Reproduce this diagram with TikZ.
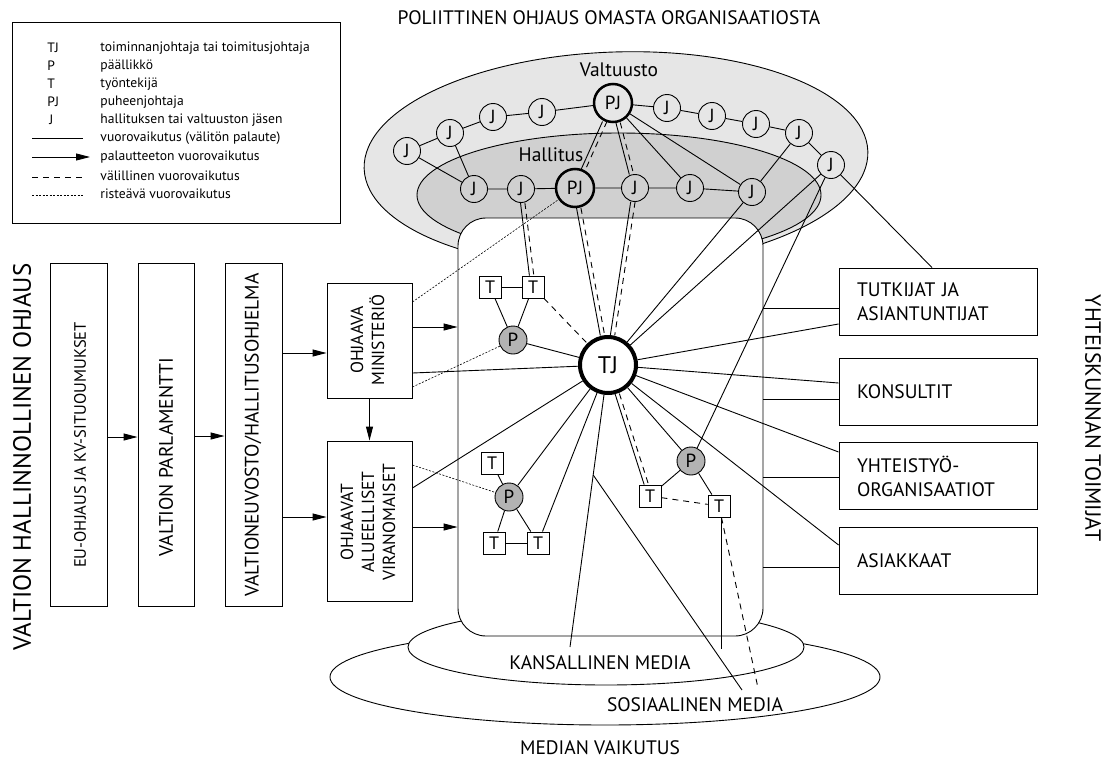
\documentclass[tikz,border=0pt]{standalone}
\usepackage{fontspec}
\setmainfont{PT Sans}
\usetikzlibrary{arrows.meta,calc}

\definecolor{valtgray}{HTML}{E6E6E6}
\definecolor{hallgray}{HTML}{D0D0D0}
\definecolor{pgray}{HTML}{B3B3B3}

\begin{document}
\begin{tikzpicture}[x=1pt, y=-1pt,
    line width=0.9pt,
    >={Triangle[length=14pt,width=7pt]},
    headtxt/.style = {font=\fontsize{19.5}{24}\selectfont},
    legtxt/.style = {
      font=\fontsize{13.6}{16}\selectfont,
      anchor = west,
      inner sep = 0pt
    },
    boxtxt/.style = {
      font=\fontsize{17.5}{21}\selectfont,
      align = center,
      rotate = 90,
      inner sep = 0pt
    },
    govbox/.style = {draw, rectangle, inner sep=0pt},
    actor/.style = {
      draw,
      rectangle,
      minimum height = 67pt,
      text width = 162pt,
      inner xsep = 18pt,
      align = left,
      headtxt
    },
    jmem/.style = {
      draw,
      circle,
      inner sep = 0pt,
      minimum size = 27pt,
      font=\fontsize{19}{19}\selectfont
    },
    chair/.style = {jmem, line width=2.5pt, minimum size=38pt},
    ceo/.style = {
      draw,
      circle,
      line width = 4pt,
      inner sep = 0pt,
      minimum size = 56pt,
      font=\fontsize{24}{24}\selectfont
    },
    boss/.style = {jmem, fill=pgray, minimum size=28pt},
    worker/.style = {
      draw,
      rectangle,
      fill = white,
      inner sep = 0pt,
      minimum size = 22pt,
      font=\fontsize{18}{18}\selectfont
    },
    indirect/.style = {dash pattern=on 6pt off 5pt},
    crossing/.style = {line width=0.6pt, dash pattern=on 2pt off 1.5pt},
    twinl/.style = {transform canvas={xshift=-2.2pt}},
    twinr/.style = {transform canvas={xshift=2.2pt}, indirect}
  ]
  \useasboundingbox (0,0) rectangle (1107,760);

  % legend
  \draw (12,22) rectangle (340,223);
  \draw (47,48)  node[legtxt] (legTJ) {TJ};
  \draw (47,66)  node[legtxt] (legP)  {P};
  \draw (47,84)  node[legtxt] (legT)  {T};
  \draw (47,102) node[legtxt] (legPJ) {PJ};
  \draw (49,120) node[legtxt] (legJ)  {J};
  \draw (100,48)  node[legtxt] (txtTJ) {toiminnanjohtaja tai toimitusjohtaja};
  \draw (100,66)  node[legtxt] (txtP)  {päällikkö};
  \draw (100,84)  node[legtxt] (txtT)  {työntekijä};
  \draw (100,102) node[legtxt] (txtPJ) {puheenjohtaja};
  \draw (100,120) node[legtxt] (txtJ)  {hallituksen tai valtuuston jäsen};
  \draw (32,138) -- (83,138);
  \draw[->] (32,157) -- (90,157);
  \draw[indirect] (32,177) -- (82,177);
  \draw[crossing] (32,195) -- (83,195);
  \draw (100,138) node[legtxt] (txtLine)  {vuorovaikutus (välitön palaute)};
  \draw (100,157) node[legtxt] (txtArrow) {palautteeton vuorovaikutus};
  \draw (100,176) node[legtxt] (txtDash)  {välillinen vuorovaikutus};
  \draw (100,194) node[legtxt] (txtDot)   {risteävä vuorovaikutus};

  % titles
  \draw (609,18) node[headtxt] (polTitle) {POLIITTINEN OHJAUS OMASTA ORGANISAATIOSTA};
  \draw (22,457) node[font=\fontsize{25}{28}\selectfont, rotate=90] (govTitle) {VALTION HALLINNOLLINEN OHJAUS};
  \draw (1093,418) node[font=\fontsize{22}{26}\selectfont, rotate=-90] (socTitle) {YHTEISKUNNAN TOIMIJAT};
  \draw (600,748) node[headtxt] (medTitle) {MEDIAN VAIKUTUS};

  % background shapes
  \draw[fill=valtgray, rotate around={2:(616,160)}] (616,160) ellipse [x radius=252pt, y radius=108pt];
  \draw[fill=hallgray] (619,195) ellipse [x radius=202pt, y radius=62pt];
  \draw[fill=white] (605,677) ellipse [x radius=275pt, y radius=48pt];
  \draw[fill=white] (606,647) ellipse [x radius=198pt, y radius=38pt];
  \draw (610.5,427) node[draw, fill=white, rounded corners=28pt, minimum width=305pt, minimum height=418pt] (frame) {};

  \draw (619,70)  node[headtxt] (valtLabel) {Valtuusto};
  \draw (551,155) node[headtxt] (hallLabel) {Hallitus};
  \draw (600,663) node[headtxt] (kansTxt) {KANSALLINEN MEDIA};
  \draw (695,705) node[headtxt] (sosTxt) {SOSIAALINEN MEDIA};

  % state steering
  \draw (78.5,434.5) node[govbox, minimum width=57pt, minimum height=343pt] (eu) {};
  \draw (166,434.5)  node[govbox, minimum width=56pt, minimum height=343pt] (parl) {};
  \draw (253.5,434.5) node[govbox, minimum width=57pt, minimum height=343pt] (valt) {};
  \draw (369.5,340.5) node[govbox, minimum width=85pt, minimum height=115pt] (mini) {};
  \draw (369.5,521)  node[govbox, minimum width=85pt, minimum height=160pt] (alue) {};
  \draw (80,445)  node[boxtxt, font=\fontsize{16.5}{20}\selectfont] (euTxt) {EU-OHJAUS JA KV-SITUOUMUKSET};
  \draw (166,457) node[boxtxt, headtxt] (parlTxt) {VALTION PARLAMENTTI};
  \draw (253,435) node[boxtxt, headtxt] (valtTxt) {VALTIONEUVOSTO/HALLITUSOHJELMA};
  \draw (367.5,340) node[boxtxt] (miniTxt) {OHJAAVA\\MINISTERIÖ};
  \draw (368,522) node[boxtxt] (alueTxt) {OHJAAVAT\\ALUEELLISET\\VIRANOMAISET};

  % society actors
  \draw (938,301.5) node[actor] (tut) {TUTKIJAT JA\\ASIANTUNTIJAT};
  \draw (938,391.5) node[actor] (kon) {KONSULTIT};
  \draw (938,476)   node[actor] (yht) {YHTEISTYÖ-\\ORGANISAATIOT};
  \draw (938,560.5) node[actor] (asi) {ASIAKKAAT};

  % valtuusto
  \draw (613,103) node[chair] (PJv) {PJ};
  \draw (407,151) node[jmem] (Jl4) {J};
  \draw (450,133) node[jmem] (Jl3) {J};
  \draw (493,117) node[jmem] (Jl2) {J};
  \draw (542,112) node[jmem] (Jl1) {J};
  \draw (667,108) node[jmem] (Jr1) {J};
  \draw (712,116) node[jmem] (Jr2) {J};
  \draw (756,124) node[jmem] (Jr3) {J};
  \draw (799,133) node[jmem] (Jr4) {J};
  \draw (831,165) node[jmem] (Jr5) {J};

  % hallitus
  \draw (474,189) node[jmem] (H1) {J};
  \draw (521,189) node[jmem] (H2) {J};
  \draw (575,188) node[chair] (PJh) {PJ};
  \draw (635,188) node[jmem] (H3) {J};
  \draw (690,188) node[jmem] (H4) {J};
  \draw (752,192) node[jmem] (H5) {J};

  % organisation
  \draw (608,365) node[ceo] (TJ) {TJ};
  \draw (490,287) node[worker] (T1) {T};
  \draw (533,287) node[worker] (T2) {T};
  \draw (513,340) node[boss] (P1) {P};
  \draw (492,463) node[worker] (T3) {T};
  \draw (509,497) node[boss] (P2) {P};
  \draw (494,543) node[worker] (T4) {T};
  \draw (538,543) node[worker] (T5) {T};
  \draw (691,461) node[boss] (P3) {P};
  \draw (650,496) node[worker] (T6) {T};
  \draw (719,506) node[worker] (T7) {T};

  \coordinate (kansEnd) at (570,647);
  \coordinate (sosEnd) at (742,690);
  \coordinate (vertEnd) at (721,649);
  \coordinate (dashEnd) at (758,688);
  \coordinate (branch) at ($(TJ.center)!0.39!(kansEnd)$);

  % arrows of state steering
  \draw[->] (eu.east |- 0,437) -- (parl.west |- 0,437);
  \draw[->] (parl.east |- 0,436) -- (valt.west |- 0,436);
  \draw[->] (valt.east |- 0,353) -- (mini.west |- 0,353);
  \draw[->] (valt.east |- 0,517) -- (alue.west |- 0,517);
  \draw[->] (mini.south) -- (alue.north);
  \draw[->] (mini.east |- 0,327) -- (frame.west |- 0,327);
  \draw[->] (alue.east |- 0,527) -- (frame.west |- 0,527);
  \draw (mini.east |- 0,373) -- (TJ);
  \draw (alue.east |- 0,488) -- (TJ);
  \draw[crossing] (mini.east |- 0,302) -- (PJh);
  \draw[crossing] (mini.east |- 0,387) -- (P1);
  \draw[crossing] (alue.east |- 0,465) -- (P2);

  % political bodies
  \draw (Jl4) -- (Jl3) -- (Jl2) -- (Jl1) -- (PJv) -- (Jr1) -- (Jr2) -- (Jr3) -- (Jr4) -- (Jr5);
  \draw (H1) -- (H2) -- (PJh) -- (H3) -- (H4) -- (H5);
  \draw (Jl4) -- (H1);
  \draw (Jl3) -- (H1);
  \draw (Jr4) -- (H5);
  \draw (PJv) -- (H4);
  \draw (PJv) -- (H5);
  \draw[twinl] (PJv) -- (PJh);
  \draw[twinr] (PJv) -- (PJh);
  \draw[twinl] (PJv) -- (H3);
  \draw[twinr] (PJv) -- (H3);

  % links into the organisation
  \draw[twinl] (H2) -- (T2);
  \draw[twinr] (H2) -- (T2);
  \draw[twinl] (PJh) -- (TJ);
  \draw[twinr] (PJh) -- (TJ);
  \draw[twinl] (H3) -- (TJ);
  \draw[twinr] (H3) -- (TJ);
  \draw (H5) -- (TJ);
  \draw (Jr5) -- (TJ);
  \draw (Jr5) -- (P3);
  \draw (Jr5) -- (tut.north -| 932,0);

  \draw (T1) -- (T2);
  \draw (T1) -- (P1);
  \draw (T2) -- (P1);
  \draw[indirect] (T2) -- (TJ);
  \draw (P1) -- (TJ);

  \draw (T3) -- (P2);
  \draw (P2) -- (T4);
  \draw (P2) -- (T5);
  \draw (T4) -- (T5);
  \draw (P2) -- (TJ);
  \draw (T5) -- (TJ);

  \draw[twinl] (TJ) -- (T6);
  \draw[twinr] (TJ) -- (T6);
  \draw (TJ) -- (P3);
  \draw (T6) -- (P3);
  \draw (P3) -- (T7);
  \draw[indirect] (T6) -- (T7);
  \draw (T7.south -| vertEnd) -- (vertEnd);
  \draw[indirect] (T7) -- (dashEnd);

  % media
  \draw (TJ) -- (kansEnd);
  \draw (branch) -- (sosEnd);

  % society
  \draw (TJ) -- (tut.west |- 0,324);
  \draw (TJ) -- (kon.west |- 0,383);
  \draw (TJ) -- (yht.west |- 0,452);
  \draw (TJ) -- (asi.west |- 0,545);
  \draw (frame.east |- 0,308) -- (tut.west |- 0,308);
  \draw (frame.east |- 0,399) -- (kon.west |- 0,399);
  \draw (frame.east |- 0,477) -- (yht.west |- 0,477);
  \draw (frame.east |- 0,567) -- (asi.west |- 0,567);
\end{tikzpicture}
\end{document}
